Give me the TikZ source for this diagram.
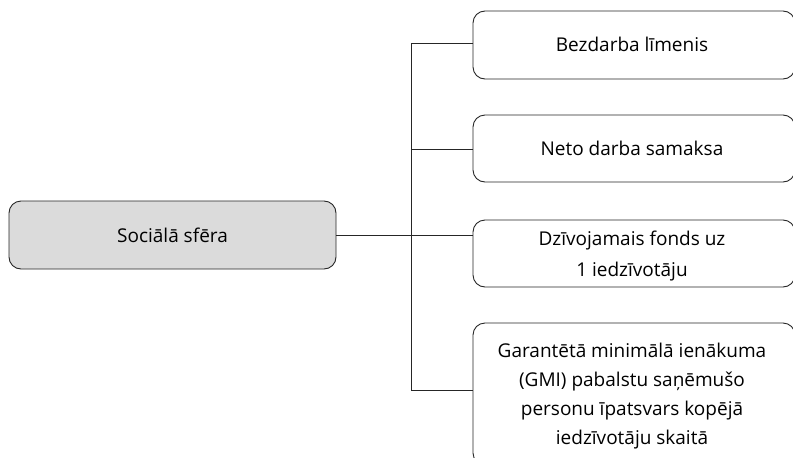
\documentclass[tikz,border=0pt]{standalone}
\usepackage{fontspec}
\setmainfont{Open Sans}
\begin{document}
\begin{tikzpicture}[x=1pt,y=-1pt,
  box/.style={draw=black!85, line width=0.9pt, rounded corners=12pt},
  lbl/.style={font=\fontsize{19}{29}\selectfont, align=center, inner sep=0pt},
  conn/.style={draw=black!85, line width=0.9pt}]
\useasboundingbox (0,0) rectangle (793,458);
% left box
\draw[box, fill=black!14] (9,201) rectangle (336,269);
\node[lbl] (soc) at (172.5,235) {Sociālā sfēra};
\coordinate (socR) at (336,235);
% right boxes
\draw[box] (473,11) rectangle (795,79);
\draw[box] (473,115) rectangle (795,182);
\draw[box] (473,220) rectangle (795,287);
\draw[box] (473,323) rectangle (795,465);
\node[lbl] (b1) at (632,44.5) {Bezdarba līmenis};
\node[lbl] (b2) at (632,148.5) {Neto darba samaksa};
\node[lbl, font=\fontsize{19}{31}\selectfont] (b3) at (632,256) {Dzīvojamais fonds uz\\1 iedzīvotāju};
\node[lbl] (b4) at (632,396) {Garantētā minimālā ienākuma\\(GMI) pabalstu saņēmušo\\personu īpatsvars kopējā\\iedzīvotāju skaitā};
\coordinate (l1) at (473,43);
\coordinate (l2) at (473,149);
\coordinate (l3) at (473,235);
\coordinate (l4) at (473,390);
\coordinate (v1) at (411,43);
\coordinate (v2) at (411,149);
\coordinate (v4) at (411,390);
\draw[conn] (l1) -- (v1) -- (v4) -- (l4);
\draw[conn] (v2) -- (l2);
\draw[conn] (socR) -- (l3);
\end{tikzpicture}
\end{document}
